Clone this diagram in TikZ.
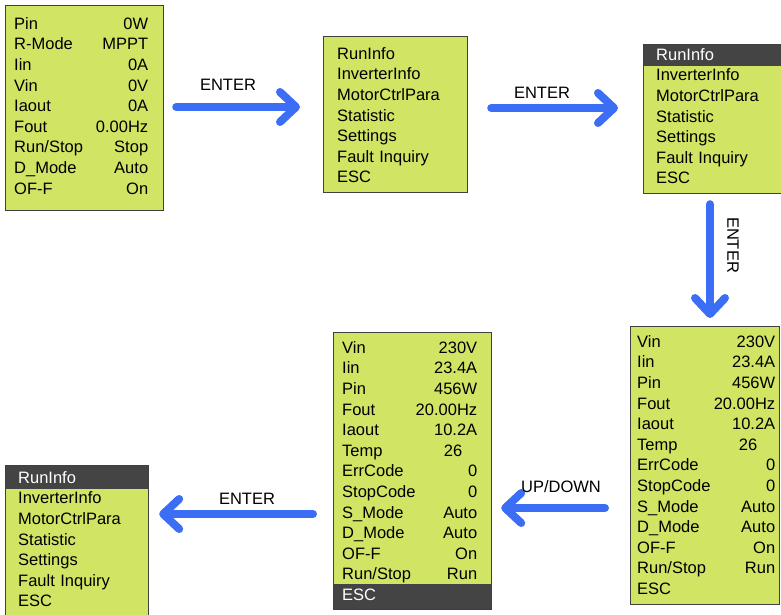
\documentclass[tikz,border=0pt]{standalone}
\usepackage{fontspec}
\setmainfont{Liberation Sans}
\usetikzlibrary{positioning,arrows.meta}

\definecolor{lcd}{RGB}{210,228,100}
\definecolor{lcdline}{RGB}{64,64,64}
\definecolor{selbar}{RGB}{68,68,68}
\definecolor{arrowblue}{RGB}{60,110,245}

\newcommand\lcdfont{\fontsize{16.5}{20.6}\selectfont\parindent=0pt}
\newcommand\kv[2]{\leavevmode\hbox to\hsize{#1\hfil#2}}
\newcommand\sel[1]{\textcolor{white}{#1}}

\tikzset{
  screen/.style={draw=lcdline, fill=lcd, line width=1.2pt, anchor=north west, inner sep=0pt},
  lines/.style={anchor=north west, inner sep=0pt, align=left, font=\lcdfont},
  topbar/.style={path picture={\fill[selbar] (path picture bounding box.north west) rectangle ([yshift=-#1]path picture bounding box.north east);}},
  bottombar/.style={path picture={\fill[selbar] (path picture bounding box.south west) rectangle ([yshift=#1]path picture bounding box.south east);}},
  flow/.style={draw=arrowblue, line width=8pt, line cap=round, -{Straight Barb[length=16pt,width=30pt,round]}},
  lbl/.style={font=\fontsize{16.5}{18}\selectfont, inner sep=0pt}
}

\begin{document}
\begin{tikzpicture}[x=1pt, y=-1pt]
  \useasboundingbox (0,0) rectangle (781,614);

  % screens
  \node[screen, minimum width=158pt, minimum height=205pt] (home) at (5,5) {};
  \node[screen, minimum width=144pt, minimum height=156pt] (mainMenu) at (323,36) {};
  \node[screen, topbar=21pt, minimum width=150pt, minimum height=149pt] (runMenu) at (643,44) {};
  \node[screen, minimum width=149pt, minimum height=278pt] (runInfo) at (630,326) {};
  \node[screen, bottombar=26pt, minimum width=158pt, minimum height=277pt] (runInfoEsc) at (333,332) {};
  \node[screen, topbar=23pt, minimum width=143pt, minimum height=160pt] (escMenu) at (5,465) {};

  % screen texts
  \node[lines, text width=134pt] (homeTxt) at (14,17.2) {
    \kv{Pin}{0W}\\ \kv{R-Mode}{MPPT}\\ \kv{Iin}{0A}\\ \kv{Vin}{0V}\\
    \kv{Iaout}{0A}\\ \kv{Fout}{0.00Hz}\\ \kv{Run/Stop}{Stop}\\
    \kv{D\_Mode}{Auto}\\ \kv{OF-F}{On}};
  \node[lines, text width=125pt] (mainMenuTxt) at (337,47.2) {
    RunInfo\\ InverterInfo\\ MotorCtrlPara\\ Statistic\\ Settings\\
    Fault Inquiry\\ ESC};
  \node[lines, text width=125pt] (runMenuTxt) at (656,48.2) {
    \sel{RunInfo}\\ InverterInfo\\ MotorCtrlPara\\ Statistic\\ Settings\\
    Fault Inquiry\\ ESC};
  \node[lines, text width=138pt] (runInfoTxt) at (637,335.2) {
    \kv{Vin}{230V}\\ \kv{Iin}{23.4A}\\ \kv{Pin}{456W}\\ \kv{Fout}{20.00Hz}\\
    \kv{Iaout}{10.2A}\\ \kv{Temp}{26\hspace{18pt}}\\ \kv{ErrCode}{0}\\
    \kv{StopCode}{0}\\ \kv{S\_Mode}{Auto}\\ \kv{D\_Mode}{Auto}\\
    \kv{OF-F}{On}\\ \kv{Run/Stop}{Run}\\ ESC};
  \node[lines, text width=135pt] (runInfoEscTxt) at (342,341.2) {
    \kv{Vin}{230V}\\ \kv{Iin}{23.4A}\\ \kv{Pin}{456W}\\ \kv{Fout}{20.00Hz}\\
    \kv{Iaout}{10.2A}\\ \kv{Temp}{26\hspace{15pt}}\\ \kv{ErrCode}{0}\\
    \kv{StopCode}{0}\\ \kv{S\_Mode}{Auto}\\ \kv{D\_Mode}{Auto}\\
    \kv{OF-F}{On}\\ \kv{Run/Stop}{Run}\\ \sel{ESC}};
  \node[lines, text width=125pt] (escMenuTxt) at (18,471.2) {
    \sel{RunInfo}\\ InverterInfo\\ MotorCtrlPara\\ Statistic\\ Settings\\
    Fault Inquiry\\ ESC};

  % key arrows
  \draw[flow, shorten <=12pt, shorten >=23pt] (home.east |- 0,107) -- (mainMenu.west |- 0,107);
  \draw[flow, shorten <=23pt, shorten >=25pt] (mainMenu.east |- 0,108) -- (runMenu.west |- 0,108);
  \draw[flow, shorten <=10pt, shorten >=8pt] (runMenu.south -| 710,0) -- (runInfo.north -| 710,0);
  \draw[flow, shorten <=25pt, shorten >=9pt] (runInfo.west |- 0,508) -- (runInfoEsc.east |- 0,508);
  \draw[flow, shorten <=20pt, shorten >=10pt] (runInfoEsc.west |- 0,514) -- (escMenu.east |- 0,514);

  \node[lbl] (enterA) at (228,85) {ENTER};
  \node[lbl] (enterB) at (542,93) {ENTER};
  \node[lbl, rotate=-90] (enterC) at (733,245) {ENTER};
  \node[lbl] (upDown) at (561,487) {UP/DOWN};
  \node[lbl] (enterD) at (247,499) {ENTER};
\end{tikzpicture}
\end{document}
